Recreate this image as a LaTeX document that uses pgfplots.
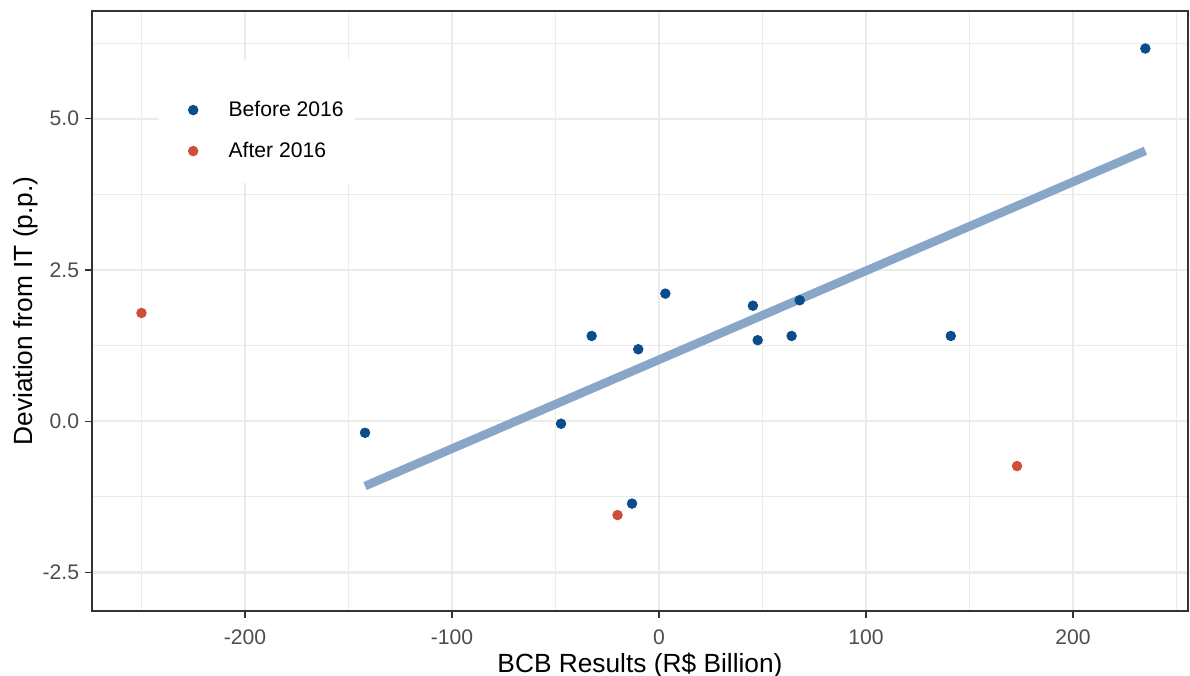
\documentclass[border=0pt]{standalone}
\usepackage{pgfplots}
\pgfplotsset{compat=1.18}
\usepackage{fontspec}
\setmainfont{Liberation Sans}
\definecolor{ptblue}{HTML}{0B4C8C}
\definecolor{ptred}{HTML}{CD4F38}
\definecolor{fitblue}{HTML}{87A6C8}
\definecolor{grid92}{HTML}{EBEBEB}
\definecolor{grey20}{HTML}{333333}
\definecolor{grey30}{HTML}{4D4D4D}
\begin{document}
\begin{tikzpicture}
\path[use as bounding box] (-46bp,-32.5bp) rectangle (549bp,305.5bp);
\begin{axis}[
  scale only axis,
  width=548bp, height=300bp,
  xmin=-273.9, xmax=255.6,
  ymin=-3.135, ymax=6.78,
  xtick={-200,-100,0,100,200},
  xticklabels={-200,-100,0,100,200},
  minor xtick={-250,-150,-50,50,150,250},
  ytick={-2.5,0,2.5,5},
  yticklabels={-2.5,0.0,2.5,5.0},
  minor ytick={-1.25,1.25,3.75,6.25},
  grid=both,
  major grid style={draw=grid92, line width=1.1bp},
  minor grid style={draw=grid92, line width=0.55bp},
  axis line style={draw=grey20, line width=0.7bp},
  tick style={draw=grey20, line width=0.7bp},
  tick align=outside,
  major tick length=3.3bp,
  minor tick length=0pt,
  xtick pos=bottom, ytick pos=left,
  xticklabel style={font=\fontsize{10.6}{12}\selectfont, text=grey30, inner sep=0pt, anchor=north, yshift=-6bp},
  yticklabel style={font=\fontsize{10.6}{12}\selectfont, text=grey30, inner sep=0pt, anchor=east, xshift=-3bp},
  xlabel={BCB Results (R\$ Billion)},
  ylabel={Deviation from IT (p.p.)},
  every axis x label/.style={at={(rel axis cs:0.5,0)}, anchor=center, yshift=-27bp, font=\fontsize{13.2}{15}\selectfont, text=black},
  every axis y label/.style={at={(rel axis cs:0,0.5)}, anchor=center, rotate=90, yshift=33bp, font=\fontsize{13.2}{15}\selectfont, text=black},
  legend style={at={(rel axis cs:0.0876,0.8007)}, anchor=west, draw=none, fill=none,
    inner sep=0pt, row sep=0pt, column sep=0pt,
    nodes={inner sep=0pt, minimum height=20.5bp},
    font=\fontsize{10.6}{12}\selectfont},
  legend cell align=left,
  legend image code/.code={\draw[#1] plot coordinates {(0bp,0bp)}; \path (0bp,0bp) (17.5bp,0bp);},
  clip=true,
]
% legend background box
\fill[white] (axis cs:-241.5,5.97) rectangle (axis cs:-146.9,3.94);
% fit line
\addplot[fitblue, line width=4.3bp, line cap=butt, forget plot] coordinates {(-142,-1.07) (235,4.47)};
\addplot[only marks, mark=*, mark size=2.4bp, ptblue, mark options={draw=ptblue, fill=ptblue}] coordinates {
(-142.0,-0.19)
(-47.3,-0.04)
(-32.5,1.41)
(-13.0,-1.36)
(-10.0,1.19)
(3.1,2.11)
(45.4,1.91)
(47.7,1.34)
(64.1,1.41)
(68.0,2.00)
(141.0,1.41)
(235.0,6.16)
};
\addlegendentry{Before 2016}
\addplot[only marks, mark=*, mark size=2.4bp, ptred, mark options={draw=ptred, fill=ptred}] coordinates {
(-250.0,1.79)
(-20.0,-1.55)
(173.0,-0.74)
};
\addlegendentry{After 2016}
\end{axis}
\end{tikzpicture}
\end{document}
